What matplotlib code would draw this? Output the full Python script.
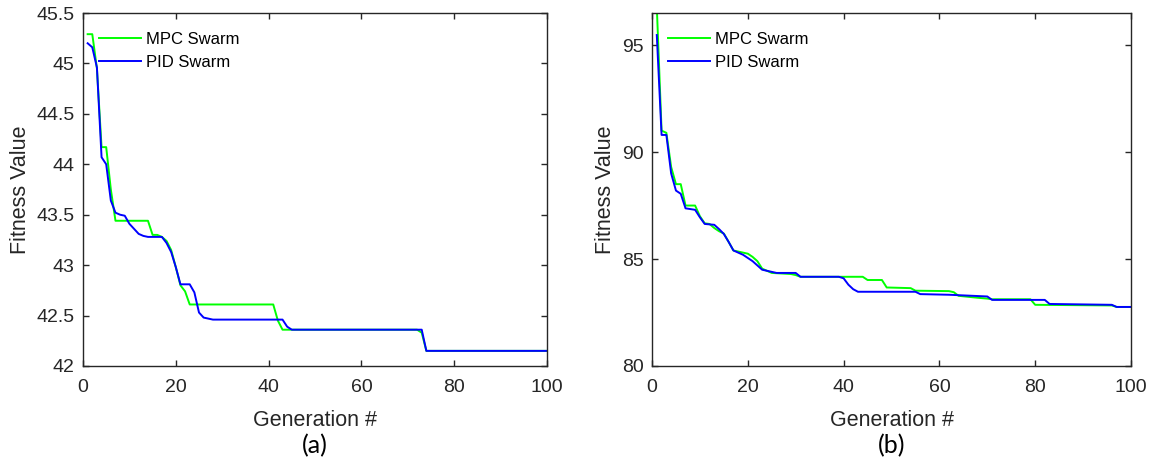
import numpy as np
import matplotlib
matplotlib.use("Agg")
import matplotlib.pyplot as plt

plt.rcParams['font.family'] = ['Liberation Sans', 'DejaVu Sans']

# ---- panel (a) data
gen_a_mpc = [1, 2, 3, 4, 5, 6, 7, 14, 15, 16, 17, 18, 19, 20, 21, 22, 23, 41, 42, 43, 72, 73, 74, 100]
fit_a_mpc = [45.29, 45.29, 44.95, 44.17, 44.17, 43.75, 43.44, 43.44, 43.30, 43.30, 43.28, 43.24,
             43.15, 42.98, 42.80, 42.74, 42.61, 42.61, 42.45, 42.36, 42.36, 42.33, 42.15, 42.15]

gen_a_pid = [1, 2, 3, 4, 5, 6, 7, 8, 9, 10, 11, 12, 13, 14, 17, 18, 19, 20, 21, 23, 24, 25, 26,
             28, 30, 43, 44, 45, 73, 74, 100]
fit_a_pid = [45.20, 45.16, 44.96, 44.07, 44.00, 43.64, 43.52, 43.50, 43.49, 43.41, 43.36, 43.31,
             43.29, 43.28, 43.28, 43.22, 43.13, 42.98, 42.81, 42.81, 42.73, 42.53, 42.48,
             42.46, 42.46, 42.46, 42.39, 42.36, 42.36, 42.15, 42.15]

# ---- panel (b) data
gen_b_mpc = [1, 2, 3, 4, 5, 6, 7, 9, 10, 11, 12, 13, 14, 15, 16, 17, 18, 19, 20, 21, 22, 23, 24,
             25, 29, 30, 31, 44, 45, 48, 49, 54, 55, 62, 63, 64, 68, 70, 71, 79, 80, 96, 97, 100]
fit_b_mpc = [96.8, 91.0, 90.9, 89.3, 88.5, 88.5, 87.5, 87.5, 87.0, 86.67, 86.64, 86.45, 86.3,
             86.19, 85.8, 85.4, 85.35, 85.3, 85.25, 85.1, 84.9, 84.55, 84.45, 84.35, 84.3,
             84.25, 84.17, 84.17, 84.02, 84.02, 83.67, 83.64, 83.52, 83.50, 83.45, 83.28,
             83.19, 83.15, 83.12, 83.12, 82.86, 82.83, 82.76, 82.76]

gen_b_pid = [1, 2, 3, 4, 5, 6, 7, 9, 10, 11, 13, 14, 15, 16, 17, 18, 19, 20, 21, 22, 23, 25, 26,
             30, 31, 39, 40, 41, 42, 43, 55, 56, 62, 70, 71, 82, 83, 96, 97, 100]
fit_b_pid = [95.47, 90.8, 90.8, 89.0, 88.2, 88.05, 87.37, 87.3, 86.95, 86.64, 86.6, 86.4, 86.17,
             85.8, 85.4, 85.3, 85.2, 85.05, 84.9, 84.7, 84.5, 84.4, 84.35, 84.35, 84.17, 84.17,
             84.1, 83.8, 83.59, 83.47, 83.47, 83.36, 83.33, 83.25, 83.09, 83.09, 82.9, 82.86,
             82.76, 82.76]

yticks_a = [42, 42.5, 43, 43.5, 44, 44.5, 45, 45.5]
ytick_labels_a = ['42', '42.5', '43', '43.5', '44', '44.5', '45', '45.5']
yticks_b = [80, 85, 90, 95]
xticks = [0, 20, 40, 60, 80, 100]

axc = '#262626'

fig = plt.figure(figsize=(11.52, 4.59), dpi=100)
ax1 = fig.add_axes([83/1152, 1-366/459, 464/1152, 353/459])
ax2 = fig.add_axes([652/1152, 1-366/459, 479/1152, 353/459])


def style(ax, ylab_x, tag, leg_x):
    ax.set_xlim(0, 100)
    ax.set_xticks(xticks)
    ax.tick_params(direction='in', length=4, width=1, top=True, right=True,
                   labelsize=14, colors=axc)
    ax.tick_params(axis='x', pad=9)
    ax.tick_params(axis='y', pad=6)
    for s in ax.spines.values():
        s.set_color(axc)
        s.set_linewidth(1)
    ax.set_xlabel('Generation #', fontsize=15.5, color=axc)
    ax.set_ylabel('Fitness Value', fontsize=15.5, color=axc)
    ax.xaxis.set_label_coords(0.5, -0.125)
    ax.yaxis.set_label_coords(ylab_x, 0.5)
    ax.text(0.5, -0.225, tag, transform=ax.transAxes, ha='center', va='center',
            fontsize=18, family='Lato', color='black')
    leg = ax.legend(loc='upper left', frameon=False, fontsize=12, handlelength=2.5,
                    handletextpad=0.3, labelspacing=0.5, borderaxespad=0.3,
                    bbox_to_anchor=(leg_x, 0.98))
    for t in leg.get_texts():
        t.set_color('black')


ax1.plot(gen_a_mpc, fit_a_mpc, color=(0, 1, 0), lw=1.4, label='MPC Swarm')
ax1.plot(gen_a_pid, fit_a_pid, color=(0, 0, 1), lw=1.4, label='PID Swarm')
ax1.set_ylim(42, 45.5)
ax1.set_yticks(yticks_a)
ax1.set_yticklabels(ytick_labels_a)
style(ax1, -0.112, '(a)', 0.01)

ax2.plot(gen_b_mpc, fit_b_mpc, color=(0, 1, 0), lw=1.4, label='MPC Swarm')
ax2.plot(gen_b_pid, fit_b_pid, color=(0, 0, 1), lw=1.4, label='PID Swarm')
ax2.set_ylim(80, 96.5)
ax2.set_yticks(yticks_b)
style(ax2, -0.076, '(b)', 0.01)

fig.savefig('out.png', dpi=100)
